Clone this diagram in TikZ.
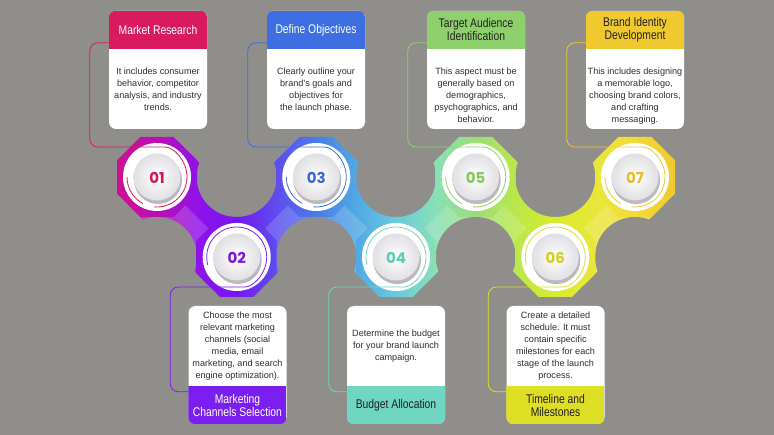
\documentclass[tikz,border=0pt]{standalone}
\usepackage{fontspec}
\setmainfont{Liberation Sans}
\newfontfamily\hdfont[FakeStretch=0.82]{Liberation Sans}
\newfontfamily\numfont{Poppins}
\usetikzlibrary{calc}
\definecolor{bgc}{HTML}{8F8E8B}
\definecolor{bodyc}{HTML}{2E2E2E}
\definecolor{darkc}{HTML}{222222}
\definecolor{stepc1}{HTML}{D91A5E}
\definecolor{stepc2}{HTML}{7A1FF0}
\definecolor{stepc3}{HTML}{3D6FE2}
\definecolor{stepc4}{HTML}{6ED6C1}
\definecolor{stepc5}{HTML}{8ED06B}
\definecolor{stepc6}{HTML}{DEDE24}
\definecolor{stepc7}{HTML}{F0C92E}
\definecolor{digc1}{HTML}{D3185A}
\definecolor{digc2}{HTML}{7A14E6}
\definecolor{digc3}{HTML}{3F68D6}
\definecolor{digc4}{HTML}{5CCDB5}
\definecolor{digc5}{HTML}{85C85A}
\definecolor{digc6}{HTML}{D2D21E}
\definecolor{digc7}{HTML}{E4BC2C}
\definecolor{shadowc}{HTML}{B9B9BE}
\definecolor{btnc}{HTML}{E0E0E4}
\definecolor{sh0}{HTML}{CC1192}
\definecolor{sh1}{HTML}{B80FB6}
\definecolor{sh2}{HTML}{8E12EC}
\definecolor{sh3}{HTML}{7417F4}
\definecolor{sh4}{HTML}{5C52EE}
\definecolor{sh5}{HTML}{497CE6}
\definecolor{sh6}{HTML}{4FA8E4}
\definecolor{sh7}{HTML}{6BC9DE}
\definecolor{sh8}{HTML}{88E0B6}
\definecolor{sh9}{HTML}{9CDD78}
\definecolor{sh10}{HTML}{B9E74A}
\definecolor{sh11}{HTML}{D8EC2E}
\definecolor{sh12}{HTML}{EAE63A}
\definecolor{sh13}{HTML}{F2DA38}
\definecolor{sh14}{HTML}{F0CA2E}
\pgfdeclarehorizontalshading{band}{100bp}{color(0bp)=(sh0); color(25bp)=(sh0); color(28.85bp)=(sh1); color(32.44bp)=(sh2); color(35.75bp)=(sh3); color(39.61bp)=(sh4); color(42.83bp)=(sh5); color(46.33bp)=(sh6); color(50bp)=(sh7); color(53.49bp)=(sh8); color(57.17bp)=(sh9); color(60.66bp)=(sh10); color(64.25bp)=(sh11); color(68.14bp)=(sh12); color(71.42bp)=(sh13); color(75bp)=(sh14); color(100bp)=(sh14)}
\tikzset{
  cardbox/.style={fill=white, rounded corners=7pt, minimum width=98pt, minimum height=118pt, inner sep=0pt},
  headtext/.style={font=\hdfont\fontsize{12.6}{13}\selectfont, align=center, inner sep=0pt},
  bodytext/.style={font=\fontsize{9.1}{12.1}\selectfont, align=center, inner sep=0pt, text=bodyc},
  numtext/.style={font=\numfont\bfseries\fontsize{15}{15}\selectfont, inner sep=0pt},
  conn/.style={line width=0.8pt, rounded corners=8pt},
  ringarc/.style={line width=0.8pt},
  whitedisk/.style={circle, fill=white, minimum size=68pt, inner sep=0pt}
}
\begin{document}
\begin{tikzpicture}[x=1pt,y=-1pt]
\fill[bgc] (0,0) rectangle (774,435);
\useasboundingbox (0,0) rectangle (774,435);

% band segments
\foreach \xa/\ya/\xb/\yb/\s in {157/177/236.7/257/-1, 236.7/257/316.3/177/1, 316.3/177/396/257/-1, 396/257/475.7/177/1, 475.7/177/555.3/257/-1, 555.3/257/635/177/1}{
  \begin{scope}
    \clip ({\xa+28.28*\s},{\ya+28.28}) -- ({\xb+28.28*\s},{\yb+28.28}) -- ({\xb-28.28*\s},{\yb-28.28}) -- ({\xa-28.28*\s},{\ya-28.28}) -- cycle;
    \shade[shading=band] (117,120) rectangle (675,300);
    \fill[white, opacity=0.16] (\xa,\ya) -- (\xb,\yb) -- ({\xb+28.28*\s},{\yb+28.28}) -- ({\xa+28.28*\s},{\ya+28.28}) -- cycle;
  \end{scope}
}
% concave cut-outs
\foreach \x/\y in {157/257, 236.7/177, 316.3/257, 396/177, 475.7/257, 555.3/177, 635/257}{
  \fill[bgc] (\x,\y) circle[radius=40];
}
% octagons
\foreach \x/\y in {157/177, 236.7/257, 316.3/177, 396/257, 475.7/177, 555.3/257, 635/177}{
  \begin{scope}
    \clip[shift={(\x,\y)}] (40,16.57) -- (16.57,40) -- (-16.57,40) -- (-40,16.57) -- (-40,-16.57) -- (-16.57,-40) -- (16.57,-40) -- (40,-16.57) -- cycle;
    \shade[shading=band] (117,120) rectangle (675,300);
  \end{scope}
}

% centres
\coordinate (ctr1) at (157,177);
\coordinate (ctr2) at (236.7,257);
\coordinate (ctr3) at (316.3,177);
\coordinate (ctr4) at (396,257);
\coordinate (ctr5) at (475.7,177);
\coordinate (ctr6) at (555.3,257);
\coordinate (ctr7) at (635,177);
\foreach \i in {1,...,7}{ \node[whitedisk] (wd\i) at (ctr\i) {}; }

% arc entry points
\coordinate (ent1) at (157,147);
\coordinate (ent3) at (316.3,147);
\coordinate (ent5) at (475.7,147);
\coordinate (ent7) at (635,147);
\coordinate (ent2) at (236.7,287);
\coordinate (ent4) at (396,287);
\coordinate (ent6) at (555.3,287);

% cards
\node[cardbox] (card1) at (158,70) {};
\node[cardbox] (card3) at (316,70) {};
\node[cardbox] (card5) at (476,70) {};
\node[cardbox] (card7) at (635,70) {};
\node[cardbox] (card2) at (237.5,365) {};
\node[cardbox] (card4) at (396,365) {};
\node[cardbox] (card6) at (555.5,365) {};

% connectors (top)
\foreach \i in {1,3,5,7}{
  \draw[conn, stepc\i] ([yshift=-32pt]card\i.north west) -- ++(-19,0) |- (ent\i) arc[start angle=270, end angle=455, radius=30];
  \draw[ringarc, stepc\i] ($(ctr\i)+(180:30)$) arc[start angle=180, end angle=118, radius=30];
}
% connectors (bottom)
\foreach \i in {2,4,6}{
  \draw[conn, stepc\i] ([yshift=-86pt]card\i.north west) -- ++(-18,0) |- (ent\i) arc[start angle=90, end angle=-195, radius=30];
}

% buttons
\foreach \i in {1,...,7}{
  \fill[shadowc] ($(ctr\i)+(1,3)$) circle[radius=24];
  \shade[inner color=white, outer color=btnc] (ctr\i) circle[radius=23.5];
}
\node[numtext, text=digc1] (num1) at (157,178) {01};
\node[numtext, text=digc2] (num2) at (236.7,258) {02};
\node[numtext, text=digc3] (num3) at (316.3,178) {03};
\node[numtext, text=digc4] (num4) at (396,258) {04};
\node[numtext, text=digc5] (num5) at (475.7,178) {05};
\node[numtext, text=digc6] (num6) at (555.3,258) {06};
\node[numtext, text=digc7] (num7) at (635,178) {07};

% headers
\foreach \i in {1,3,5,7}{
  \begin{scope}
    \clip[rounded corners=7pt] (card\i.north west) rectangle (card\i.south east);
    \fill[stepc\i] (card\i.north west) rectangle ([yshift=-38pt]card\i.north east);
  \end{scope}
}
\foreach \i in {2,4,6}{
  \begin{scope}
    \clip[rounded corners=7pt] (card\i.north west) rectangle (card\i.south east);
    \fill[stepc\i] ([yshift=38pt]card\i.south west) rectangle (card\i.south east);
  \end{scope}
}

\node[headtext, text=white] (head1) at (158,30) {Market Research};
\node[headtext, text=white] (head3) at (316,30) {Define Objectives};
\node[headtext, text=darkc] (head5) at (476,30) {Target Audience\\Identification};
\node[headtext, text=darkc] (head7) at (635,30) {Brand Identity\\Development};
\node[headtext, text=white] (head2) at (237.5,405) {Marketing\\Channels Selection};
\node[headtext, text=darkc] (head4) at (396,405) {Budget Allocation};
\node[headtext, text=darkc] (head6) at (555.5,405) {Timeline and\\Milestones};

\node[bodytext, anchor=north] (body1) at (158,67.5) {It includes consumer\\behavior, competitor\\analysis, and industry\\trends.};
\node[bodytext, anchor=north] (body3) at (316,67.5) {Clearly outline your\\brand's goals and\\objectives for\\the launch phase.};
\node[bodytext, anchor=north] (body5) at (476,67.5) {This aspect must be\\generally based on\\demographics,\\psychographics, and\\behavior.};
\node[bodytext, anchor=north] (body7) at (635,67.5) {This includes designing\\a memorable logo,\\choosing brand colors,\\and crafting\\messaging.};
\node[bodytext] (body2) at (237.5,346) {Choose the most\\relevant marketing\\channels (social\\media, email\\marketing, and search\\engine optimization).};
\node[bodytext] (body4) at (396,346) {Determine the budget\\for your brand launch\\campaign.};
\node[bodytext] (body6) at (555.5,346) {Create a detailed\\schedule. It must\\contain specific\\milestones for each\\stage of the launch\\process.};
\end{tikzpicture}
\end{document}
